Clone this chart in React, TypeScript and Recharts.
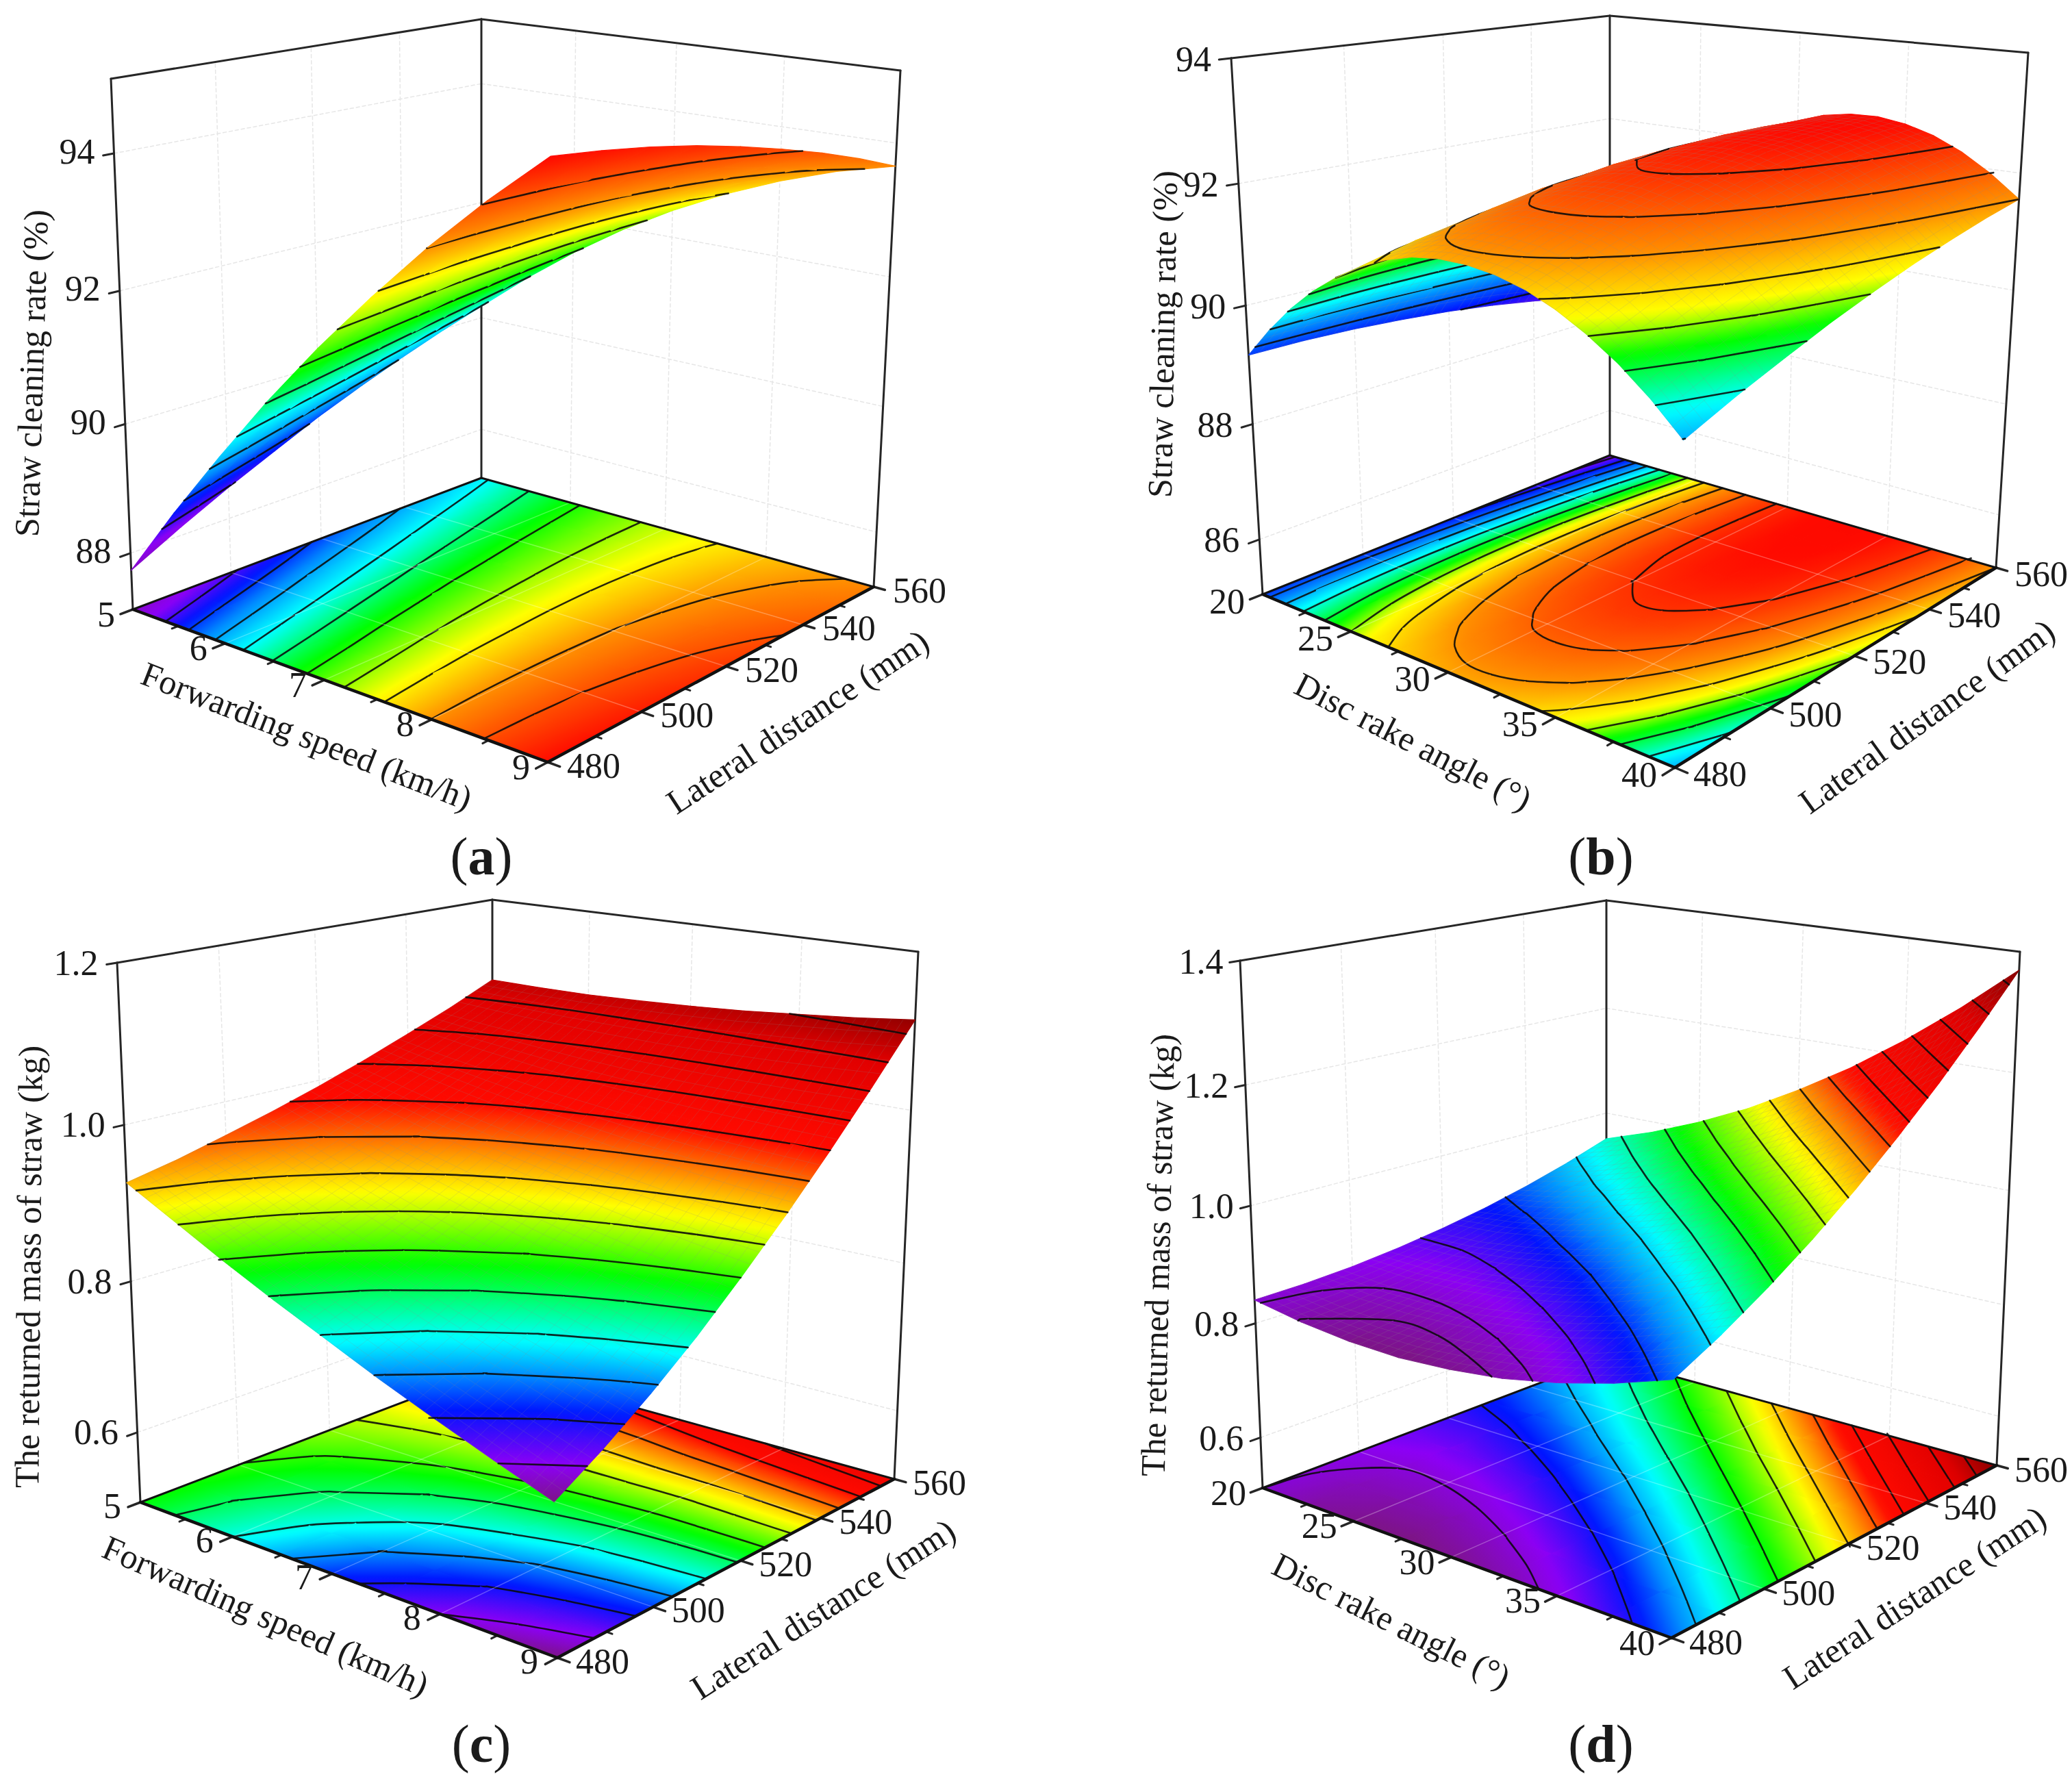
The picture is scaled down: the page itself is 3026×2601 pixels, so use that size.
import { ScatterChart, Scatter, XAxis, YAxis } from "recharts"

const WIDTH = 3026
const HEIGHT = 2601
const FONT = "'Liberation Serif', serif"

// rainbow used by the response surfaces, low to high
const RAMP = [
  [125, 20, 135], [140, 0, 245], [0, 20, 255], [0, 140, 255], [0, 255, 255], [0, 255, 0],
  [255, 255, 0], [255, 140, 0], [255, 10, 0], [225, 0, 0], [130, 0, 0],
]

const speedTicks = [5, 6, 7, 8, 9]
const speedMinor = [5.5, 6.5, 7.5, 8.5]
const angleTicks = [20, 25, 30, 35, 40]
const angleMinor = [22.5, 27.5, 32.5, 37.5]
const lateralTicks = [480, 500, 520, 540, 560]
const lateralMinor = [490, 510, 530, 550]

// rows: factor on the left axis low to high, columns: lateral distance 480 to 560
const cleaningSpeed = [
  [87.73, 88.13, 88.5, 88.84, 89.17, 89.46, 89.73, 89.98, 90.2],
  [88.86, 89.2, 89.51, 89.8, 90.06, 90.29, 90.51, 90.69, 90.85],
  [89.92, 90.2, 90.45, 90.68, 90.88, 91.06, 91.21, 91.34, 91.44],
  [90.93, 91.14, 91.34, 91.5, 91.65, 91.76, 91.86, 91.92, 91.97],
  [91.87, 92.02, 92.16, 92.27, 92.35, 92.41, 92.44, 92.45, 92.43],
  [92.74, 92.84, 92.92, 92.96, 92.99, 92.99, 92.96, 92.91, 92.83],
  [93.56, 93.6, 93.61, 93.6, 93.57, 93.5, 93.42, 93.31, 93.17],
  [94.31, 94.29, 94.25, 94.17, 94.08, 93.96, 93.81, 93.64, 93.45],
  [95.0, 94.92, 94.82, 94.69, 94.53, 94.35, 94.15, 93.92, 93.66],
]
const cleaningAngle = [
  [89.17, 89.17, 89.14, 89.08, 89.0, 88.89, 88.75, 88.59, 88.4],
  [89.68, 89.73, 89.74, 89.72, 89.67, 89.59, 89.48, 89.34, 89.17],
  [90.13, 90.22, 90.28, 90.3, 90.28, 90.22, 90.13, 90.01, 89.86],
  [90.51, 90.65, 90.74, 90.79, 90.8, 90.77, 90.7, 90.6, 90.47],
  [90.82, 91.0, 91.13, 91.22, 91.26, 91.25, 91.2, 91.12, 91.01],
  [91.08, 91.29, 91.45, 91.57, 91.63, 91.65, 91.62, 91.56, 91.47],
  [91.27, 91.51, 91.7, 91.85, 91.93, 91.97, 91.96, 91.92, 91.86],
  [91.4, 91.66, 91.88, 92.05, 92.16, 92.22, 92.23, 92.21, 92.17],
  [91.46, 91.75, 92.0, 92.18, 92.31, 92.4, 92.43, 92.43, 92.41],
  [91.46, 91.76, 92.03, 92.24, 92.39, 92.5, 92.55, 92.57, 92.57],
  [91.4, 91.72, 92.0, 92.23, 92.39, 92.52, 92.59, 92.63, 92.65],
  [91.28, 91.61, 91.9, 92.14, 92.32, 92.47, 92.56, 92.62, 92.66],
  [91.09, 91.43, 91.73, 91.98, 92.18, 92.34, 92.45, 92.53, 92.59],
  [90.84, 91.18, 91.48, 91.74, 91.96, 92.13, 92.27, 92.37, 92.45],
  [90.53, 90.86, 91.17, 91.44, 91.67, 91.85, 92.01, 92.13, 92.23],
  [90.15, 90.48, 90.78, 91.05, 91.29, 91.49, 91.67, 91.81, 91.93],
  [89.7, 90.03, 90.32, 90.6, 90.84, 91.06, 91.25, 91.42, 91.56],
]
const massSpeed = [
  [0.927, 0.94, 0.956, 0.973, 0.992, 1.013, 1.036, 1.06, 1.087],
  [0.893, 0.909, 0.927, 0.948, 0.971, 0.997, 1.024, 1.054, 1.086],
  [0.859, 0.878, 0.9, 0.924, 0.951, 0.981, 1.014, 1.049, 1.086],
  [0.827, 0.849, 0.874, 0.902, 0.933, 0.967, 1.004, 1.045, 1.088],
  [0.797, 0.821, 0.85, 0.881, 0.916, 0.955, 0.997, 1.042, 1.091],
  [0.767, 0.795, 0.826, 0.861, 0.9, 0.943, 0.99, 1.041, 1.095],
  [0.739, 0.769, 0.804, 0.843, 0.886, 0.933, 0.985, 1.041, 1.101],
  [0.712, 0.745, 0.783, 0.826, 0.873, 0.924, 0.981, 1.042, 1.107],
  [0.686, 0.722, 0.763, 0.809, 0.861, 0.917, 0.978, 1.044, 1.115],
]
const massSpeedFloor = [
  [0.85, 0.853, 0.859, 0.868, 0.88, 0.896, 0.914, 0.935, 0.96],
  [0.824, 0.831, 0.841, 0.855, 0.872, 0.892, 0.914, 0.94, 0.969],
  [0.8, 0.811, 0.826, 0.844, 0.864, 0.888, 0.915, 0.945, 0.978],
  [0.775, 0.79, 0.809, 0.831, 0.856, 0.884, 0.914, 0.949, 0.986],
  [0.75, 0.77, 0.792, 0.819, 0.848, 0.88, 0.915, 0.953, 0.995],
  [0.73, 0.753, 0.78, 0.81, 0.842, 0.878, 0.917, 0.959, 1.004],
  [0.71, 0.737, 0.767, 0.801, 0.837, 0.876, 0.918, 0.964, 1.013],
  [0.697, 0.727, 0.759, 0.796, 0.834, 0.877, 0.921, 0.97, 1.021],
  [0.686, 0.718, 0.753, 0.792, 0.833, 0.878, 0.925, 0.976, 1.03],
]
const massAngle = [
  [0.84, 0.842, 0.847, 0.856, 0.868, 0.883, 0.902, 0.924, 0.95],
  [0.825, 0.831, 0.841, 0.855, 0.872, 0.894, 0.919, 0.947, 0.98],
  [0.816, 0.827, 0.842, 0.861, 0.884, 0.911, 0.942, 0.977, 1.016],
  [0.813, 0.829, 0.849, 0.873, 0.902, 0.935, 0.972, 1.013, 1.058],
  [0.818, 0.838, 0.863, 0.892, 0.926, 0.965, 1.008, 1.055, 1.108],
  [0.828, 0.853, 0.883, 0.918, 0.957, 1.002, 1.051, 1.105, 1.163],
  [0.846, 0.875, 0.91, 0.95, 0.995, 1.045, 1.1, 1.16, 1.226],
  [0.87, 0.904, 0.944, 0.989, 1.039, 1.095, 1.156, 1.223, 1.295],
  [0.9, 0.939, 0.984, 1.034, 1.09, 1.152, 1.219, 1.292, 1.37],
]

const levelsA = [88.55, 89.1, 89.7, 90.3, 90.9, 91.55, 92.2, 92.85, 93.55, 94.25]
const levelsB = [88.6, 88.97, 89.34, 89.71, 90.08, 90.45, 90.82, 91.19, 91.56, 91.93, 92.3]
const levelsC = [0.71, 0.74, 0.77, 0.8, 0.83, 0.86, 0.89, 0.92, 0.95, 0.98, 1.01, 1.04, 1.07, 1.1]
const levelsD = [0.84, 0.88, 0.92, 0.96, 1.0, 1.045, 1.09, 1.135, 1.18, 1.225, 1.277, 1.325]
const levelsDTop = [0.826, 0.838, 0.862, 0.892, 0.93, 0.96, 0.99, 1.02, 1.05, 1.08, 1.11, 1.14, 1.17, 1.2, 1.235, 1.27, 1.31, 1.35]

// response value at each RAMP colour
const stopsA = [87.0, 88.2, 88.9, 89.5, 90.3, 91.4, 92.7, 93.6, 95.0, 95.5, 96.0]
const stopsB = [88.0, 88.5, 89.0, 89.55, 90.0, 90.6, 91.0, 91.6, 92.6, 93.5, 94.0]
const stopsC = [0.686, 0.71, 0.745, 0.77, 0.795, 0.85, 0.905, 0.94, 0.98, 1.07, 1.125]
const stopsD = [0.815, 0.85, 0.885, 0.91, 0.94, 1.0, 1.07, 1.115, 1.16, 1.29, 1.375]

const panels = [
  {
    id: "a", xTitle: "Forwarding speed (km/h)", zTitle: "Straw cleaning rate (%)",
    xTicks: speedTicks, xMinor: speedMinor, zTicks: [88, 90, 92, 94], zDigits: 0,
    surface: cleaningSpeed, floor: cleaningSpeed, levels: levelsA, topLevels: levelsA, stops: stopsA, zRange: [87.11, 95.06], mesh: false,
    top: [[162, 115], [804, 221], [1315, 103], [703, 28]], base: [[194, 890], [800, 1113], [1276, 857], [703, 698]],
    zOff: [-54, -3], xOff: [-39, 7], yOff: [67, 5],
    zPos: [46, 545, -88.3], xPos: [448, 1075, 21.3], yPos: [1165, 1054, -33.3], cap: [703, 1250],
  },
  {
    id: "b", xTitle: "Disc rake angle (°)", zTitle: "Straw cleaning rate (%)",
    xTicks: angleTicks, xMinor: angleMinor, zTicks: [86, 88, 90, 92, 94], zDigits: 0,
    surface: cleaningAngle, floor: cleaningAngle, levels: levelsB, topLevels: levelsB, stops: stopsB, zRange: [85.03, 94], mesh: true,
    top: [[1798, 85], [2471, 174], [2962, 77], [2351, 23]], base: [[1844, 868], [2446, 1121], [2915, 829], [2351, 665]],
    zOff: [-55, 1], xOff: [-52, 10], yOff: [66, 9],
    zPos: [1698, 488, -89], xPos: [2064, 1083, 27.2], yPos: [2814, 1046, -35.8], cap: [2338, 1250],
  },
  {
    id: "c", xTitle: "Forwarding speed (km/h)", zTitle: "The returned mass of straw (kg)",
    xTicks: speedTicks, xMinor: speedMinor, zTicks: [0.6, 0.8, 1.0, 1.2], zDigits: 1,
    surface: massSpeed, floor: massSpeedFloor, levels: levelsC, topLevels: levelsC, stops: stopsC, zRange: [0.505, 1.2], mesh: true,
    top: [[171, 1406], [795, 1505], [1341, 1390], [719, 1314]], base: [[205, 2194], [814, 2421], [1306, 2160], [719, 1998]],
    zOff: [-60, 0], xOff: [-41, 5], yOff: [66, 5],
    zPos: [42, 1850, -89.5], xPos: [388, 2360, 23.6], yPos: [1202, 2350, -32.4], cap: [703, 2546],
  },
  {
    id: "d", xTitle: "Disc rake angle (°)", zTitle: "The returned mass of straw (kg)",
    xTicks: angleTicks, xMinor: angleMinor, zTicks: [0.6, 0.8, 1.0, 1.2, 1.4], zDigits: 1,
    surface: massAngle, floor: massAngle, levels: levelsD, topLevels: levelsDTop, stops: stopsD, zRange: [0.51, 1.4], mesh: true,
    top: [[1811, 1403], [2447, 1500], [2950, 1390], [2346, 1315]], base: [[1844, 2173], [2441, 2392], [2916, 2140], [2346, 1983]],
    zOff: [-57, 1], xOff: [-50, 7], yOff: [65, 6],
    zPos: [1691, 1833, -88.7], xPos: [2032, 2367, 26.6], yPos: [2796, 2333, -33], cap: [2338, 2546],
  },
]

type Panel = (typeof panels)[number]

// unit square to quad, corners in order (0,0) (1,0) (1,1) (0,1)
function quadMap(q: number[][]) {
  const [[x0, y0], [x1, y1], [x2, y2], [x3, y3]] = q
  const dx1 = x1 - x2, dx2 = x3 - x2, sx = x0 - x1 + x2 - x3
  const dy1 = y1 - y2, dy2 = y3 - y2, sy = y0 - y1 + y2 - y3
  const den = dx1 * dy2 - dx2 * dy1
  const g = (sx * dy2 - dx2 * sy) / den
  const h = (dx1 * sy - sx * dy1) / den
  return (u: number, v: number) => {
    const w = g * u + h * v + 1
    return [
      ((x1 - x0 + g * x1) * u + (x3 - x0 + h * x3) * v + x0) / w,
      ((y1 - y0 + g * y1) * u + (y3 - y0 + h * y3) * v + y0) / w,
    ]
  }
}

function projector(p: Panel) {
  const baseMap = quadMap(p.base)
  const topMap = quadMap(p.top)
  return (u: number, v: number, z: number) => {
    const t = (z - p.zRange[0]) / (p.zRange[1] - p.zRange[0])
    const k = (t * 0.94) / (1 - 0.06 * t)
    const a = baseMap(u, v)
    const b = topMap(u, v)
    return [a[0] + (b[0] - a[0]) * k, a[1] + (b[1] - a[1]) * k]
  }
}

function colorAt(z: number, stops: number[]) {
  if (z <= stops[0]) return `rgb(${RAMP[0].join(",")})`
  for (let i = 1; i < stops.length; i++) {
    if (z <= stops[i]) {
      const f = (z - stops[i - 1]) / (stops[i] - stops[i - 1])
      const c = RAMP[i].map((n, k) => Math.round(RAMP[i - 1][k] + (n - RAMP[i - 1][k]) * f))
      return `rgb(${c.join(",")})`
    }
  }
  return `rgb(${RAMP[RAMP.length - 1].join(",")})`
}

const edgeKey = (a: number[], b: number[], L: number) => {
  const s = `${a[0]}_${a[1]}`
  const t = `${b[0]}_${b[1]}`
  return `${L}:${s < t ? s + "|" + t : t + "|" + s}`
}

// one surface cell: polygon, gradient across it, contour pieces, faint mesh
function buildCells(p: Panel, values: number[][], levels: number[], flat: boolean, withMesh: boolean, prefix: string) {
  const project = projector(p)
  const rows = values.length - 1
  const cols = values[0].length - 1
  const place = (u: number, v: number, z: number) => project(u, v, flat ? p.zRange[0] : z)
  const cells: any[] = []
  const byEdge = new Map<string, any[]>()

  for (let i = 0; i < rows; i++) {
    for (let j = cols - 1; j >= 0; j--) {
      const idx = [[i, j], [i + 1, j], [i + 1, j + 1], [i, j + 1]]
      const zs = idx.map(([a, b]) => values[a][b])
      const pts = idx.map(([a, b], k) => place(a / rows, b / cols, zs[k]))
      const cx = (pts[0][0] + pts[1][0] + pts[2][0] + pts[3][0]) / 4
      const cy = (pts[0][1] + pts[1][1] + pts[2][1] + pts[3][1]) / 4
      const zc = (zs[0] + zs[1] + zs[2] + zs[3]) / 4
      const zMin = Math.min(...zs)
      const zMax = Math.max(...zs)

      const e1 = [(pts[1][0] - pts[0][0] + pts[2][0] - pts[3][0]) / 2, (pts[1][1] - pts[0][1] + pts[2][1] - pts[3][1]) / 2]
      const e2 = [(pts[3][0] - pts[0][0] + pts[2][0] - pts[1][0]) / 2, (pts[3][1] - pts[0][1] + pts[2][1] - pts[1][1]) / 2]
      const d1 = (zs[1] - zs[0] + zs[2] - zs[3]) / 2
      const d2 = (zs[3] - zs[0] + zs[2] - zs[1]) / 2
      const det = e1[0] * e2[1] - e1[1] * e2[0]
      let grad: any = null
      if (Math.abs(det) > 1 && zMax - zMin > 1e-6) {
        const ga = (d1 * e2[1] - d2 * e1[1]) / det
        const gb = (e1[0] * d2 - e2[0] * d1) / det
        const n2 = ga * ga + gb * gb
        if (n2 > 0) {
          grad = {
            id: `${prefix}-${i}-${j}`,
            x1: cx + (ga * (zMin - zc)) / n2, y1: cy + (gb * (zMin - zc)) / n2,
            x2: cx + (ga * (zMax - zc)) / n2, y2: cy + (gb * (zMax - zc)) / n2,
            stops: Array.from({ length: 13 }, (_, k) => ({
              o: k / 12, c: colorAt(zMin + ((zMax - zMin) * k) / 12, p.stops),
            })),
          }
        }
      }

      const lines: any[] = []
      for (const L of levels) {
        const hits: any[] = []
        for (let k = 0; k < 4; k++) {
          const m = (k + 1) % 4
          if (zs[k] >= L !== zs[m] >= L) {
            const f = (L - zs[k]) / (zs[m] - zs[k])
            const u = (idx[k][0] + (idx[m][0] - idx[k][0]) * f) / rows
            const v = (idx[k][1] + (idx[m][1] - idx[k][1]) * f) / cols
            hits.push({ q: place(u, v, L), key: edgeKey(idx[k], idx[m], L) })
          }
        }
        for (let h = 0; h + 1 < hits.length; h += 2) {
          const piece = { a: hits[h], b: hits[h + 1] }
          lines.push(piece)
          for (const end of [piece.a, piece.b]) {
            if (!byEdge.has(end.key)) byEdge.set(end.key, [])
            byEdge.get(end.key)!.push(piece)
          }
        }
      }

      const mesh: number[][] = []
      if (withMesh) {
        const mix = (s: number, t: number) => [
          (1 - s) * (1 - t) * pts[0][0] + s * (1 - t) * pts[1][0] + s * t * pts[2][0] + (1 - s) * t * pts[3][0],
          (1 - s) * (1 - t) * pts[0][1] + s * (1 - t) * pts[1][1] + s * t * pts[2][1] + (1 - s) * t * pts[3][1],
        ]
        const nu = Math.round(40 / rows)
        for (let k = 0; k < nu; k++) mesh.push([...mix(k / nu, 0), ...mix(k / nu, 1)])
        for (let k = 0; k < 5; k++) mesh.push([...mix(0, k / 5), ...mix(1, k / 5)])
      }

      cells.push({ x: cx, y: cy, pts, grad, fill: colorAt(zc, p.stops), lines, mesh })
    }
  }

  // rounded contour pieces: each end takes its tangent from the piece in the next cell
  const farEnd = (piece: any, end: any) => {
    const other = (byEdge.get(end.key) || []).find((s) => s !== piece)
    if (!other) return null
    return other.a.key === end.key ? other.b.q : other.a.q
  }
  for (const c of cells) {
    c.curves = c.lines.map((s: any) => {
      const P = s.a.q
      const Q = s.b.q
      const R = farEnd(s, s.a)
      const T = farEnd(s, s.b)
      const c1 = R ? [P[0] + (Q[0] - R[0]) / 6, P[1] + (Q[1] - R[1]) / 6] : [P[0] + (Q[0] - P[0]) / 3, P[1] + (Q[1] - P[1]) / 3]
      const c2 = T ? [Q[0] - (T[0] - P[0]) / 6, Q[1] - (T[1] - P[1]) / 6] : [Q[0] - (Q[0] - P[0]) / 3, Q[1] - (Q[1] - P[1]) / 3]
      return [...P, ...c1, ...c2, ...Q]
    })
    delete c.lines
  }
  return cells
}

function CellShape(props: any) {
  const { cx, cy, payload: c } = props
  const sx = cx - c.x
  const sy = cy - c.y
  const fill = c.grad ? `url(#${c.grad.id})` : c.fill
  return (
    <g>
      {c.grad && (
        <defs>
          <linearGradient id={c.grad.id} gradientUnits="userSpaceOnUse"
            x1={c.grad.x1 + sx} y1={c.grad.y1 + sy} x2={c.grad.x2 + sx} y2={c.grad.y2 + sy}>
            {c.grad.stops.map((s: any) => <stop key={s.o} offset={s.o} stopColor={s.c} />)}
          </linearGradient>
        </defs>
      )}
      <polygon points={c.pts.map((q: number[]) => `${q[0] + sx},${q[1] + sy}`).join(" ")}
        fill={fill} stroke={fill} strokeWidth={1.2} strokeLinejoin="round" />
      {c.mesh.map((m: number[], k: number) => (
        <line key={k} x1={m[0] + sx} y1={m[1] + sy} x2={m[2] + sx} y2={m[3] + sy}
          stroke="rgba(140,140,140,0.2)" strokeWidth={1} />
      ))}
      {c.curves.map((m: number[], k: number) => (
        <path key={k} fill="none" stroke="rgba(10,10,10,0.88)" strokeWidth={2.6} strokeLinecap="round"
          d={`M${m[0] + sx} ${m[1] + sy}C${m[2] + sx} ${m[3] + sy} ${m[4] + sx} ${m[5] + sy} ${m[6] + sx} ${m[7] + sy}`} />
      ))}
    </g>
  )
}

function SegmentShape(props: any) {
  const { cx, cy, payload: s } = props
  return (
    <line x1={cx} y1={cy} x2={cx + s.x2 - s.x} y2={cy + s.y2 - s.y}
      stroke={s.stroke} strokeWidth={s.width} strokeDasharray={s.dash} strokeLinecap="round" />
  )
}

function TextShape(props: any) {
  const { cx, cy, payload: t } = props
  return (
    <text x={cx} y={cy} textAnchor="middle" dominantBaseline="central" fontFamily={FONT}
      fontSize={t.size} fill="#1a1a1a" transform={t.angle ? `rotate(${t.angle} ${cx} ${cy})` : undefined}>
      {t.letter ? <>(<tspan fontWeight="bold">{t.letter}</tspan>)</> : t.text}
    </text>
  )
}

function seg(a: number[], b: number[], stroke: string, width: number, dash?: string) {
  return { x: a[0], y: a[1], x2: b[0], y2: b[1], stroke, width, dash }
}

function series(p: Panel) {
  const project = projector(p)
  const [zLo, zHi] = p.zRange
  const xRange = p.xTicks[p.xTicks.length - 1] - p.xTicks[0]
  const toU = (t: number) => (t - p.xTicks[0]) / xRange
  const toV = (t: number) => (t - 480) / 80

  const GRID = "#e6e6e6"
  const walls: any[] = []
  for (const z of p.zTicks) {
    walls.push(seg(project(0, 0, z), project(0, 1, z), GRID, 1.5, "5 4"))
    walls.push(seg(project(0, 1, z), project(1, 1, z), GRID, 1.5, "5 4"))
  }
  for (const t of p.xTicks.slice(1, -1)) walls.push(seg(project(toU(t), 1, zLo), project(toU(t), 1, zHi), GRID, 1.5, "5 4"))
  for (const t of lateralTicks.slice(1, -1)) walls.push(seg(project(0, toV(t), zLo), project(0, toV(t), zHi), GRID, 1.5, "5 4"))

  const BOX = "#262626"
  const EDGE = "#111111"
  const frame: any[] = [
    seg(project(0, 0, zLo), project(0, 0, zHi), BOX, 3),
    seg(project(0, 1, zLo), project(0, 1, zHi), BOX, 3),
    seg(project(1, 1, zLo), project(1, 1, zHi), BOX, 3),
    seg(project(0, 0, zHi), project(0, 1, zHi), BOX, 3),
    seg(project(0, 1, zHi), project(1, 1, zHi), BOX, 3),
  ]
  for (const z of p.zTicks) frame.push(seg(project(0, 0, z), project(0, -0.025, z), BOX, 3))
  for (const t of p.xTicks) frame.push(seg(project(toU(t), 0, zLo), project(toU(t), -0.03, zLo), BOX, 3.5))
  for (const t of p.xMinor) frame.push(seg(project(toU(t), 0, zLo), project(toU(t), -0.015, zLo), BOX, 3))
  for (const t of lateralTicks) frame.push(seg(project(1, toV(t), zLo), project(1.025, toV(t), zLo), BOX, 3.5))
  for (const t of lateralMinor) frame.push(seg(project(1, toV(t), zLo), project(1.012, toV(t), zLo), BOX, 3))

  const floorGrid: any[] = []
  for (const t of p.xTicks.slice(1, -1)) floorGrid.push(seg(project(toU(t), 0, zLo), project(toU(t), 1, zLo), "rgba(255,255,255,0.28)", 1.5))
  for (const t of lateralTicks.slice(1, -1)) floorGrid.push(seg(project(0, toV(t), zLo), project(1, toV(t), zLo), "rgba(255,255,255,0.28)", 1.5))
  floorGrid.push(seg(project(0, 0, zLo), project(0, 1, zLo), EDGE, 3))
  floorGrid.push(seg(project(0, 1, zLo), project(1, 1, zLo), EDGE, 3))
  floorGrid.push(seg(project(0, 0, zLo), project(1, 0, zLo), EDGE, 4.5))
  floorGrid.push(seg(project(1, 0, zLo), project(1, 1, zLo), EDGE, 4.5))

  const texts: any[] = []
  const label = (q: number[], off: number[], text: string) =>
    texts.push({ x: q[0] + off[0], y: q[1] + off[1], text, size: 52 })
  for (const z of p.zTicks) label(project(0, 0, z), p.zOff, z.toFixed(p.zDigits))
  for (const t of p.xTicks) label(project(toU(t), 0, zLo), p.xOff, String(t))
  for (const t of lateralTicks) label(project(1, toV(t), zLo), p.yOff, String(t))
  texts.push({ x: p.zPos[0], y: p.zPos[1], angle: p.zPos[2], text: p.zTitle, size: 50.5 })
  texts.push({ x: p.xPos[0], y: p.xPos[1], angle: p.xPos[2], text: p.xTitle, size: 50.5 })
  texts.push({ x: p.yPos[0], y: p.yPos[1], angle: p.yPos[2], text: "Lateral distance (mm)", size: 50.5 })
  texts.push({ x: p.cap[0], y: p.cap[1], letter: p.id, size: 78 })

  return [
    <Scatter key={p.id + "walls"} data={walls} shape={SegmentShape} isAnimationActive={false} />,
    <Scatter key={p.id + "frame"} data={frame} shape={SegmentShape} isAnimationActive={false} />,
    <Scatter key={p.id + "floor"} data={buildCells(p, p.floor, p.levels, true, false, p.id + "f")} shape={CellShape} isAnimationActive={false} />,
    <Scatter key={p.id + "fgrid"} data={floorGrid} shape={SegmentShape} isAnimationActive={false} />,
    <Scatter key={p.id + "surface"} data={buildCells(p, p.surface, p.topLevels, false, p.mesh, p.id + "s")} shape={CellShape} isAnimationActive={false} />,
    <Scatter key={p.id + "text"} data={texts} shape={TextShape} isAnimationActive={false} />,
  ]
}

export default function App() {
  return (
    <div style={{ position: "absolute", left: 0, top: 0, width: WIDTH, height: HEIGHT, background: "#fff" }}>
      <ScatterChart width={WIDTH} height={HEIGHT} margin={{ top: 0, right: 0, bottom: 0, left: 0 }}>
        <XAxis type="number" dataKey="x" domain={[0, WIDTH]} hide allowDataOverflow />
        <YAxis type="number" dataKey="y" domain={[0, HEIGHT]} reversed hide allowDataOverflow />
        {panels.flatMap(series)}
      </ScatterChart>
    </div>
  )
}
